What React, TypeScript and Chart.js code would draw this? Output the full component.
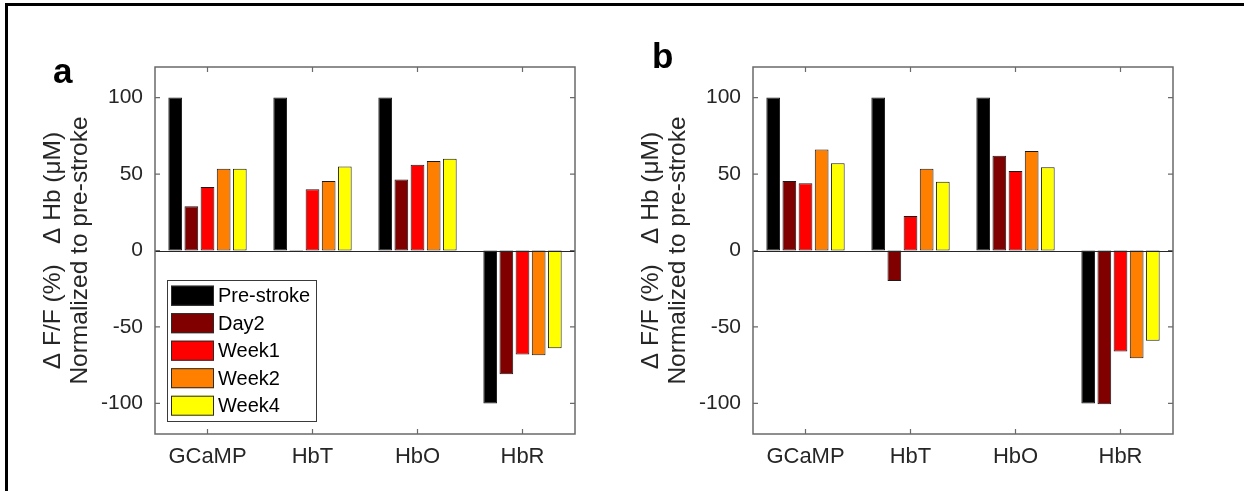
import React, { useEffect, useRef } from 'react';
import { Chart, registerables } from 'chart.js';
Chart.register(...registerables);

const categories = ['GCaMP', 'HbT', 'HbO', 'HbR'];
const seriesLabels = ['Pre-stroke', 'Day2', 'Week1', 'Week2', 'Week4'];
const seriesColors = ['#000000', '#800000', '#ff0000', '#ff8000', '#ffff00'];
const yTickValues = [-100, -50, 0, 50, 100];
const yTitleLines = ['\u0394 F/F (%)   \u0394 Hb (\u03bcM)', 'Normalized to pre-stroke'];

// Panel a
const preA = [100, 100, 100, -100];
const day2A = [29, -0.5, 46.5, -81];
const week1A = [41.5, 40, 56, -68];
const week2A = [53.5, 45.5, 58.5, -68.5];
const week4A = [53.5, 55, 60, -64];

// Panel b
const preB = [100, 100, 100, -100];
const day2B = [45.5, -20, 62, -100.5];
const week1B = [44, 22.5, 52, -66];
const week2B = [66, 53.5, 65, -70.5];
const week4B = [57, 45, 54.5, -59];

const FONT = "'Liberation Sans', Arial, sans-serif";
const AXIS_COLOR = '#262626';
const BOX_COLOR = '#6a6a6a';

function makeChart(canvas: HTMLCanvasElement, series: number[][], letter: string, letterPos: [number, number], showLegend: boolean) {
  const framePlugin = {
    id: 'frame',
    afterDatasetsDraw(chart: any) {
      const ctx = chart.ctx;
      const ca = chart.chartArea;
      const xs = chart.scales.x;
      const ys = chart.scales.y;
      ctx.save();
      // zero baseline
      const y0 = ys.getPixelForValue(0);
      ctx.strokeStyle = AXIS_COLOR;
      ctx.lineWidth = 1;
      ctx.beginPath();
      ctx.moveTo(ca.left, Math.round(y0) + 0.5);
      ctx.lineTo(ca.right, Math.round(y0) + 0.5);
      ctx.stroke();
      // box
      ctx.strokeStyle = BOX_COLOR;
      ctx.lineWidth = 1.5;
      ctx.strokeRect(ca.left, ca.top, ca.right - ca.left, ca.bottom - ca.top);
      // inward ticks
      ctx.lineWidth = 1.2;
      const tl = 5;
      categories.forEach((_, i) => {
        const px = xs.getPixelForValue(i);
        ctx.beginPath();
        ctx.moveTo(px, ca.bottom);
        ctx.lineTo(px, ca.bottom - tl);
        ctx.moveTo(px, ca.top);
        ctx.lineTo(px, ca.top + tl);
        ctx.stroke();
      });
      yTickValues.forEach((v) => {
        const py = ys.getPixelForValue(v);
        ctx.beginPath();
        ctx.moveTo(ca.left, py);
        ctx.lineTo(ca.left + tl, py);
        ctx.moveTo(ca.right, py);
        ctx.lineTo(ca.right - tl, py);
        ctx.stroke();
      });
      // legend
      if (showLegend) {
        const x0 = ca.left + 12;
        const yTop = ca.top + 213;
        const w = 149;
        const h = 141;
        ctx.fillStyle = '#ffffff';
        ctx.fillRect(x0, yTop, w, h);
        ctx.strokeStyle = '#3a3a3a';
        ctx.lineWidth = 1;
        ctx.strokeRect(x0 + 0.5, yTop + 0.5, w, h);
        ctx.font = `20px ${FONT}`;
        ctx.textBaseline = 'middle';
        ctx.textAlign = 'left';
        chart.data.datasets.forEach((ds: any, i: number) => {
          const cy = yTop + 15.7 + i * 27.5;
          ctx.fillStyle = ds.backgroundColor;
          ctx.fillRect(x0 + 4, cy - 10, 43, 20);
          ctx.strokeStyle = '#2a2a2a';
          ctx.lineWidth = 1;
          ctx.strokeRect(x0 + 4.5, cy - 9.5, 42, 19);
          ctx.fillStyle = '#000000';
          ctx.fillText(ds.label, x0 + 51, cy + 1);
        });
      }
      // panel letter
      ctx.fillStyle = '#000000';
      ctx.font = `bold 35px ${FONT}`;
      ctx.textAlign = 'left';
      ctx.textBaseline = 'alphabetic';
      ctx.fillText(letter, letterPos[0], letterPos[1]);
      ctx.restore();
    },
  };

  return new Chart(canvas, {
    type: 'bar',
    data: {
      labels: categories,
      datasets: series.map((vals, i) => ({
        label: seriesLabels[i],
        data: vals,
        backgroundColor: seriesColors[i],
        borderColor: '#1a1a1a',
        borderWidth: 1,
        borderSkipped: false,
        categoryPercentage: 0.769,
        barPercentage: 0.85,
      })),
    },
    options: {
      animation: false,
      responsive: false,
      maintainAspectRatio: false,
      layout: { padding: { left: 0, top: 67, right: 25, bottom: 0 } },
      plugins: { legend: { display: false }, tooltip: { enabled: false } },
      scales: {
        x: {
          type: 'category',
          offset: true,
          grid: { display: false, drawTicks: false },
          border: { display: false },
          ticks: { font: { family: FONT, size: 22 }, color: AXIS_COLOR, padding: 10, maxRotation: 0, autoSkip: false },
          afterFit: (s: any) => { s.height = 57; },
        },
        y: {
          min: -120,
          max: 120,
          afterBuildTicks: (s: any) => { s.ticks = yTickValues.map((v) => ({ value: v })); },
          grid: { display: false, drawTicks: false },
          border: { display: false },
          ticks: { font: { family: FONT, size: 21 }, color: AXIS_COLOR, padding: 12 },
          title: {
            display: true,
            text: yTitleLines,
            font: { family: FONT, size: 24.5, lineHeight: 1.1 },
            color: AXIS_COLOR,
            padding: { top: 39.5, bottom: 0 },
          },
          afterFit: (s: any) => { s.width = 155; },
        },
      },
    } as any,
    plugins: [framePlugin],
  });
}

export default function App() {
  const refA = useRef<HTMLCanvasElement>(null);
  const refB = useRef<HTMLCanvasElement>(null);
  useEffect(() => {
    const a = makeChart(refA.current!, [preA, day2A, week1A, week2A, week4A], 'a', [53, 83], true);
    const b = makeChart(refB.current!, [preB, day2B, week1B, week2B, week4B], 'b', [54, 68], false);
    return () => { a.destroy(); b.destroy(); };
  }, []);
  return (
    <div style={{ position: 'fixed', left: 0, top: 0, width: 1244, height: 491, overflow: 'hidden', background: '#ffffff' }}>
      <div style={{ position: 'absolute', left: 5, top: 3, width: 1400, height: 700, borderLeft: '3px solid #000', borderTop: '3px solid #000' }} />
      <canvas ref={refA} width={600} height={491} style={{ position: 'absolute', left: 0, top: 0 }} />
      <canvas ref={refB} width={600} height={491} style={{ position: 'absolute', left: 598, top: 0 }} />
    </div>
  );
}
